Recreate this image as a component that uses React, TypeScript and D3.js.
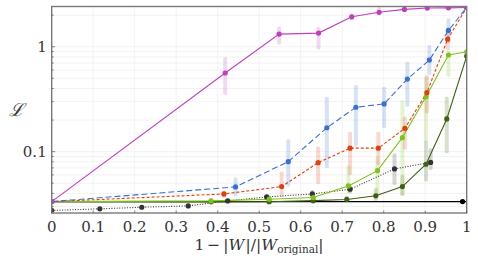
import React from "react";
import * as d3 from "d3";

const W = 478;
const H = 263;
const M = { left: 51.7, right: 466.7, top: 6.5, bottom: 213 };

const xTicks = [0, 0.1, 0.2, 0.3, 0.4, 0.5, 0.6, 0.7, 0.8, 0.9, 1];
const xTickLabels = ["0", "0.1", "0.2", "0.3", "0.4", "0.5", "0.6", "0.7", "0.8", "0.9", "1"];
const yMajor = [0.1, 1];
const yMajorLabels = ["0.1", "1"];
const yMinor = [0.03, 0.04, 0.05, 0.06, 0.07, 0.08, 0.09, 0.2, 0.3, 0.4, 0.5, 0.6, 0.7, 0.8, 0.9, 2];

// magenta
const magX = [0, 0.418, 0.548, 0.643, 0.723, 0.789, 0.85, 0.905, 0.956, 1.0];
const magY = [0.0334, 0.562, 1.32, 1.35, 1.93, 2.13, 2.27, 2.34, 2.35, 2.37];
const magLo = [null, 0.347, 1.05, 0.94, 1.79, 2.0, 2.15, 2.25, 2.28, null];
const magHi = [null, 0.798, 1.57, 1.55, 2.08, 2.4, 2.4, 2.4, 2.42, null];

// blue
const blueX = [0, 0.443, 0.57, 0.663, 0.733, 0.801, 0.857, 0.91, 0.956, 1.0];
const blueY = [0.0334, 0.0461, 0.0803, 0.169, 0.265, 0.285, 0.492, 0.747, 1.43, 2.37];
const blueLo = [null, 0.0373, 0.0464, 0.07, 0.112, 0.168, 0.268, 0.537, 1.08, null];
const blueHi = [null, 0.0571, 0.131, 0.334, 0.432, 0.416, 0.72, 1.04, 1.86, null];

// orange
const orX = [0, 0.415, 0.554, 0.642, 0.719, 0.787, 0.851, 0.904, 0.954, 1.0];
const orY = [0.0334, 0.0395, 0.0464, 0.0785, 0.108, 0.108, 0.167, 0.365, 1.18, 2.37];
const orLo = [null, 0.036, 0.0368, 0.0492, 0.06, 0.0747, 0.104, 0.232, 0.93, null];
const orHi = [null, 0.0425, 0.0645, 0.112, 0.155, 0.155, 0.216, 0.537, 1.44, null];

// light green
const lgX = [0, 0.384, 0.524, 0.63, 0.715, 0.785, 0.845, 0.902, 0.956, 1.0];
const lgY = [0.0334, 0.0339, 0.0352, 0.0365, 0.0471, 0.0659, 0.136, 0.334, 0.834, 0.896];
const lgLo = [null, 0.032, 0.0325, 0.033, 0.0402, 0.0378, 0.038, 0.129, 0.518, null];
const lgHi = [null, 0.036, 0.038, 0.041, 0.0747, 0.09, 0.31, 0.518, 0.93, null];

// dark green
const dgX = [0, 0.384, 0.524, 0.63, 0.711, 0.781, 0.845, 0.902, 0.952, 1.0];
const dgY = [0.0334, 0.0332, 0.0333, 0.0341, 0.035, 0.0379, 0.0464, 0.0758, 0.205, 0.815];
const dgLo = [null, null, null, 0.032, 0.033, 0.034, 0.038, 0.0518, 0.0966, null];
const dgHi = [null, null, null, 0.036, 0.038, 0.045, 0.06, 0.129, 0.334, null];

// black dotted
const bdX = [0, 0.116, 0.217, 0.329, 0.424, 0.518, 0.628, 0.719, 0.826, 0.913];
const bdY = [0.0275, 0.0285, 0.0295, 0.0304, 0.0339, 0.037, 0.0395, 0.0438, 0.0684, 0.079];
const bdLo = [null, null, null, null, null, null, 0.036, 0.04, 0.0482, 0.067];
const bdHi = [null, null, null, null, null, null, 0.043, 0.048, 0.0967, 0.108];

// black solid baseline
const baseX = [0, 1];
const baseY = [0.0334, 0.0334];
const basePtX = [0.99];
const basePtY = [0.0334];
const basePtLo = [0.0318];
const basePtHi = [0.0352];

type S = {
  xs: number[];
  ys: number[];
  lo: (number | null)[];
  hi: (number | null)[];
  color: string;
  dash?: string;
  width: number;
  markers: boolean;
};

const series: S[] = [
  { xs: baseX, ys: baseY, lo: [null, null], hi: [null, null], color: "#000", width: 1.1, markers: false },
  { xs: basePtX, ys: basePtY, lo: basePtLo, hi: basePtHi, color: "#000", width: 0, markers: true },
  { xs: bdX, ys: bdY, lo: bdLo, hi: bdHi, color: "#333", dash: "1,1.6", width: 1.1, markers: true },
  { xs: dgX, ys: dgY, lo: dgLo, hi: dgHi, color: "#3f6010", width: 1.1, markers: true },
  { xs: lgX, ys: lgY, lo: lgLo, hi: lgHi, color: "#7fc21a", width: 1.1, markers: true },
  { xs: orX, ys: orY, lo: orLo, hi: orHi, color: "#e0400f", dash: "3,2", width: 1.1, markers: true },
  { xs: blueX, ys: blueY, lo: blueLo, hi: blueHi, color: "#3a6fd8", dash: "6,3", width: 1.1, markers: true },
  { xs: magX, ys: magY, lo: magLo, hi: magHi, color: "#bf3fbf", width: 1.1, markers: true },
];

export default function App() {
  const x = d3.scaleLinear().domain([0, 1]).range([M.left, M.right]);
  const y = d3.scaleLog().domain([0.026, 2.42]).range([M.bottom, M.top]);
  const line = d3
    .line<[number, number]>()
    .x((d) => x(d[0]))
    .y((d) => y(d[1]));
  const serifStyle = { fontFamily: "'DejaVu Serif', serif" };

  return (
    <svg width={W} height={H} style={{ position: "absolute", left: 0, top: 0, background: "#fff" }}>
      <defs>
        <clipPath id="plot">
          <rect x={M.left} y={M.top} width={M.right - M.left} height={M.bottom - M.top} />
        </clipPath>
      </defs>
      {/* grid */}
      <g stroke="#efefef" strokeWidth={0.8}>
        {xTicks.map((t, i) => (
          <line key={"gx" + i} x1={x(t)} x2={x(t)} y1={M.top} y2={M.bottom} />
        ))}
        {[...yMajor, ...yMinor].map((t, i) => (
          <line key={"gy" + i} x1={M.left} x2={M.right} y1={y(t)} y2={y(t)} />
        ))}
      </g>
      <g clipPath="url(#plot)">
        {/* error bars */}
        {series.map((s, si) =>
          s.xs.map((xv, i) => {
            const lo = s.lo[i];
            const hi = s.hi[i];
            if (lo == null || hi == null) return null;
            return (
              <rect
                key={"e" + si + "-" + i}
                x={x(xv) - 2}
                width={4}
                y={y(hi)}
                height={y(lo) - y(hi)}
                fill={s.color}
                opacity={0.2}
                rx={1.5}
              />
            );
          })
        )}
        {/* lines */}
        {series.map((s, si) =>
          s.width > 0 ? (
            <path
              key={"l" + si}
              d={line(s.xs.map((xv, i) => [xv, s.ys[i]] as [number, number])) || ""}
              fill="none"
              stroke={s.color}
              strokeWidth={s.width}
              strokeDasharray={s.dash}
            />
          ) : null
        )}
        {/* markers */}
        {series.map((s, si) =>
          s.markers
            ? s.xs.map((xv, i) => (
                <circle key={"m" + si + "-" + i} cx={x(xv)} cy={y(s.ys[i])} r={2.6} fill={s.color} />
              ))
            : null
        )}
      </g>
      {/* frame */}
      <rect
        x={M.left}
        y={M.top}
        width={M.right - M.left}
        height={M.bottom - M.top}
        fill="none"
        stroke="#7a7a7a"
        strokeWidth={1.4}
      />
      {/* ticks */}
      <g stroke="#555" strokeWidth={0.7}>
        {yMajor.map((t, i) => (
          <line key={"ym" + i} x1={M.left} x2={M.left + 3.5} y1={y(t)} y2={y(t)} />
        ))}
        {yMinor.map((t, i) => (
          <line key={"yn" + i} x1={M.left} x2={M.left + 2} y1={y(t)} y2={y(t)} />
        ))}
        {xTicks.map((t, i) => (
          <line key={"xt" + i} x1={x(t)} x2={x(t)} y1={M.bottom} y2={M.bottom - 2.5} />
        ))}
      </g>
      {/* labels */}
      <g style={serifStyle} fontSize={15} fill="#333">
        {yMajor.map((t, i) => (
          <text key={"yl" + i} x={M.left - 5} y={y(t)} dy="0.36em" textAnchor="end" style={serifStyle}>
            {yMajorLabels[i]}
          </text>
        ))}
        {xTicks.map((t, i) => (
          <text key={"xl" + i} x={x(t)} y={231.5} textAnchor="middle" style={serifStyle}>
            {xTickLabels[i]}
          </text>
        ))}
        <text x={259} y={250} textAnchor="middle" fontSize={15.5} style={serifStyle}>
          <tspan>1</tspan>
          <tspan dx={3}>−</tspan>
          <tspan dx={3}>|</tspan>
          <tspan fontStyle="italic">W</tspan>
          <tspan dx={1}>|/|</tspan>
          <tspan fontStyle="italic">W</tspan>
          <tspan fontSize={10.5} dy={3}>original</tspan>
          <tspan dy={-3}>|</tspan>
        </text>
        <text x={16} y={110} dy="0.35em" textAnchor="middle" fontStyle="italic" fontSize={18} style={serifStyle}>
          ℒ
        </text>
      </g>
    </svg>
  );
}
